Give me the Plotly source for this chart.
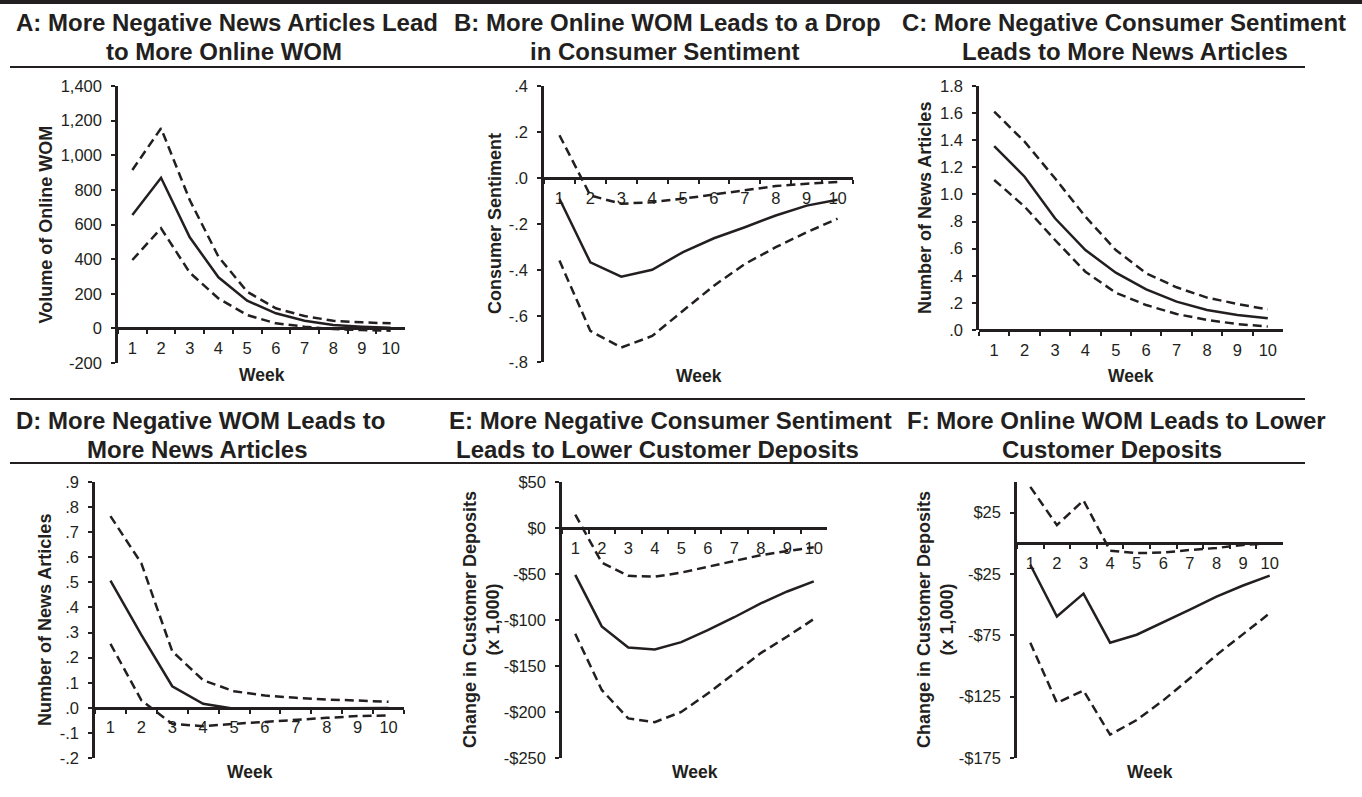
import plotly.graph_objects as go

W, H = 1362, 797
FONT = "Liberation Sans, Arial, Helvetica, sans-serif"
INK = "#231f20"

weeks = [str(i) for i in range(1, 11)]

# A: news articles -> online WOM
a_mid = [655, 870, 526, 295, 160, 87, 44, 19, 10, 4]
a_up = [915, 1156, 741, 414, 212, 116, 71, 44, 35, 29]
a_lo = [395, 578, 322, 173, 77, 29, 10, -4, -10, -13]
a_ticks = [-200, 0, 200, 400, 600, 800, 1000, 1200, 1400]

# B: online WOM -> consumer sentiment
b_mid = [-0.09, -0.367, -0.429, -0.399, -0.322, -0.262, -0.214, -0.163, -0.12, -0.095]
b_up = [0.186, -0.076, -0.112, -0.105, -0.09, -0.071, -0.051, -0.035, -0.025, -0.017]
b_lo = [-0.359, -0.665, -0.737, -0.687, -0.577, -0.468, -0.374, -0.301, -0.236, -0.177]
b_ticks = [-0.8, -0.6, -0.4, -0.2, 0.0, 0.2, 0.4]

# C: consumer sentiment -> news articles
c_mid = [1.357, 1.131, 0.824, 0.59, 0.423, 0.3, 0.209, 0.148, 0.111, 0.086]
c_up = [1.611, 1.389, 1.119, 0.836, 0.59, 0.418, 0.315, 0.239, 0.192, 0.152]
c_lo = [1.107, 0.91, 0.664, 0.43, 0.275, 0.184, 0.118, 0.074, 0.044, 0.025]
c_ticks = [0.0, 0.2, 0.4, 0.6, 0.8, 1.0, 1.2, 1.4, 1.6, 1.8]

# D: negative WOM -> news articles
d_mid = [0.507, 0.291, 0.086, 0.016, -0.004, -0.004, -0.003, -0.002, -0.002, -0.001]
d_up = [0.764, 0.576, 0.225, 0.11, 0.066, 0.049, 0.04, 0.033, 0.029, 0.024]
d_lo = [0.255, 0.03, -0.064, -0.073, -0.064, -0.056, -0.046, -0.04, -0.033, -0.03]
d_ticks = [-0.2, -0.1, 0.0, 0.1, 0.2, 0.3, 0.4, 0.5, 0.6, 0.7, 0.8, 0.9]

# E: consumer sentiment -> customer deposits
e_mid = [-51, -107, -130, -132, -124, -111, -97, -82, -69, -58]
e_up = [14.6, -37.6, -52, -53, -48.5, -42, -36, -29.5, -25, -21]
e_lo = [-115, -176, -207, -211, -200, -180, -158, -136, -118, -99]
e_ticks = [-250, -200, -150, -100, -50, 0, 50]

# F: online WOM -> customer deposits
f_mid = [-17.5, -59.7, -41, -81, -74.5, -64.5, -54, -43.5, -34.4, -26.3]
f_up = [46, 14.8, 35, -6, -8, -7.5, -5.4, -3.8, -1.3, 0]
f_lo = [-81, -130, -120, -156, -144, -128, -110, -91, -74, -57]
f_ticks = [-175, -125, -75, -25, 25]


def fmt_thousands(v):
    return f"{v:,}"


def fmt_decimal(v):
    s = f"{abs(v):.1f}"
    if s.startswith("0"):
        s = s[1:]
    return ("-" if v < 0 else "") + s


def fmt_dollar(v):
    return ("-" if v < 0 else "") + f"${abs(v):g}"


panels = [
    dict(key="A", mid=a_mid, up=a_up, lo=a_lo, ticks=a_ticks, fmt=fmt_thousands,
         yrange=[-200, 1400], box=(118, 405, 86, 363), week_y=375,
         ytitle="Volume of Online WOM", ytitle_x=45,
         title=["A: More Negative News Articles Lead", "to More Online WOM"],
         title_x=[227, 224], title_y=[23, 52]),
    dict(key="B", mid=b_mid, up=b_up, lo=b_lo, ticks=b_ticks, fmt=fmt_decimal,
         yrange=[-0.8, 0.4], box=(544, 853, 86, 362), week_y=376,
         ytitle="Consumer Sentiment", ytitle_x=495,
         title=["B: More Online WOM Leads to a Drop", "in Consumer Sentiment"],
         title_x=[667, 664], title_y=[23, 52]),
    dict(key="C", mid=c_mid, up=c_up, lo=c_lo, ticks=c_ticks, fmt=fmt_decimal,
         yrange=[0, 1.8], box=(979, 1283, 86, 330), week_y=376,
         ytitle="Number of News Articles", ytitle_x=925,
         title=["C: More Negative Consumer Sentiment", "Leads to More News Articles"],
         title_x=[1124, 1125], title_y=[23, 52]),
    dict(key="D", mid=d_mid, up=d_up, lo=d_lo, ticks=d_ticks, fmt=fmt_decimal,
         yrange=[-0.2, 0.9], box=(95, 404, 482, 758), week_y=772,
         ytitle="Number of News Articles", ytitle_x=45,
         title=["D: More Negative WOM Leads to", "More News Articles"],
         title_x=[200, 197], title_y=[420, 449]),
    dict(key="E", mid=e_mid, up=e_up, lo=e_lo, ticks=e_ticks, fmt=fmt_dollar,
         yrange=[-250, 50], box=(562, 827, 482, 758), week_y=772,
         ytitle="Change in Customer Deposits<br>(x 1,000)", ytitle_x=481,
         title=["E: More Negative Consumer Sentiment", "Leads to Lower Customer Deposits"],
         title_x=[670, 657], title_y=[420, 449]),
    dict(key="F", mid=f_mid, up=f_up, lo=f_lo, ticks=f_ticks, fmt=fmt_dollar,
         yrange=[-175, 50], box=(1017, 1283, 482, 758), week_y=772,
         ytitle="Change in Customer Deposits<br>(x 1,000)", ytitle_x=935,
         title=["F: More Online WOM Leads to Lower", "Customer Deposits"],
         title_x=[1116, 1112], title_y=[420, 449]),
]

fig = go.Figure()
annotations = []
layout_axes = {}


def px_x(x):
    return x / W


def px_y(y):
    return 1 - y / H


for i, p in enumerate(panels, start=1):
    xn = "x" if i == 1 else f"x{i}"
    yn = "y" if i == 1 else f"y{i}"
    xa = "xaxis" if i == 1 else f"xaxis{i}"
    ya = "yaxis" if i == 1 else f"yaxis{i}"
    x0, x1, yt, yb = p["box"]
    xdom = [px_x(x0), px_x(x1)]
    ydom = [px_y(yb), px_y(yt)]
    lo_r, hi_r = p["yrange"]
    # horizontal axis sits on the zero line
    zero_pos = ydom[0] + (0 - lo_r) / (hi_r - lo_r) * (ydom[1] - ydom[0])

    for series, dash in ((p["up"], "9px,5px"), (p["lo"], "9px,5px"), (p["mid"], "solid")):
        fig.add_trace(go.Scatter(
            x=weeks, y=series, mode="lines", xaxis=xn, yaxis=yn,
            line=dict(color=INK, width=2.5, dash=dash), showlegend=False,
            hoverinfo="skip"))

    layout_axes[xa] = dict(
        domain=xdom, type="category", range=[-0.5, 9.5],
        anchor="free", position=zero_pos, automargin=False,
        showline=True, linecolor=INK, linewidth=2.5,
        ticks="outside", tickson="boundaries", ticklen=4, tickwidth=2, tickcolor=INK,
        tickfont=dict(family=FONT, size=16.5, color=INK),
        ticklabelstandoff=4,
        showgrid=False, zeroline=False, fixedrange=True)
    layout_axes[ya] = dict(
        domain=ydom, range=p["yrange"], anchor=xn, automargin=False,
        tickvals=p["ticks"], ticktext=[p["fmt"](v) for v in p["ticks"]],
        showline=True, linecolor=INK, linewidth=2.5,
        ticks="outside", ticklen=4, tickwidth=2, tickcolor=INK,
        tickfont=dict(family=FONT, size=16.5, color=INK),
        ticklabelstandoff=6,
        showgrid=False, zeroline=False, fixedrange=True)

    # panel title (two centred lines)
    for txt, tx, ty in zip(p["title"], p["title_x"], p["title_y"]):
        annotations.append(dict(
            text=f"<b>{txt}</b>", x=px_x(tx), y=px_y(ty), xref="paper", yref="paper",
            xanchor="center", yanchor="middle", showarrow=False,
            font=dict(family=FONT, size=24, color=INK)))
    # y-axis title
    annotations.append(dict(
        text=f"<b>{p['ytitle']}</b>", x=px_x(p["ytitle_x"]), y=px_y((yt + yb) / 2),
        xref="paper", yref="paper", xanchor="center", yanchor="middle",
        textangle=-90, showarrow=False,
        font=dict(family=FONT, size=18, color=INK)))
    # x-axis title under the plot
    annotations.append(dict(
        text="<b>Week</b>", x=px_x((x0 + x1) / 2), y=px_y(p["week_y"]),
        xref="paper", yref="paper", xanchor="center", yanchor="middle",
        showarrow=False, font=dict(family=FONT, size=17.5, color=INK)))

shapes = [
    # heavy rule across the top
    dict(type="rect", xref="paper", yref="paper", x0=0, x1=1, y0=px_y(4), y1=1,
         fillcolor=INK, line=dict(width=0), layer="above"),
]
for ry in (67, 399, 463):
    shapes.append(dict(type="line", xref="paper", yref="paper",
                       x0=px_x(10), x1=px_x(1305), y0=px_y(ry), y1=px_y(ry),
                       line=dict(color=INK, width=2)))

fig.update_layout(
    template="none",
    width=W, height=H, autosize=False,
    margin=dict(l=0, r=0, t=0, b=0, pad=0, autoexpand=False),
    paper_bgcolor="white", plot_bgcolor="white",
    font=dict(family=FONT, color=INK),
    annotations=annotations, shapes=shapes,
    showlegend=False,
    **layout_axes,
)

fig.write_html("out.html", config={"displayModeBar": False})
